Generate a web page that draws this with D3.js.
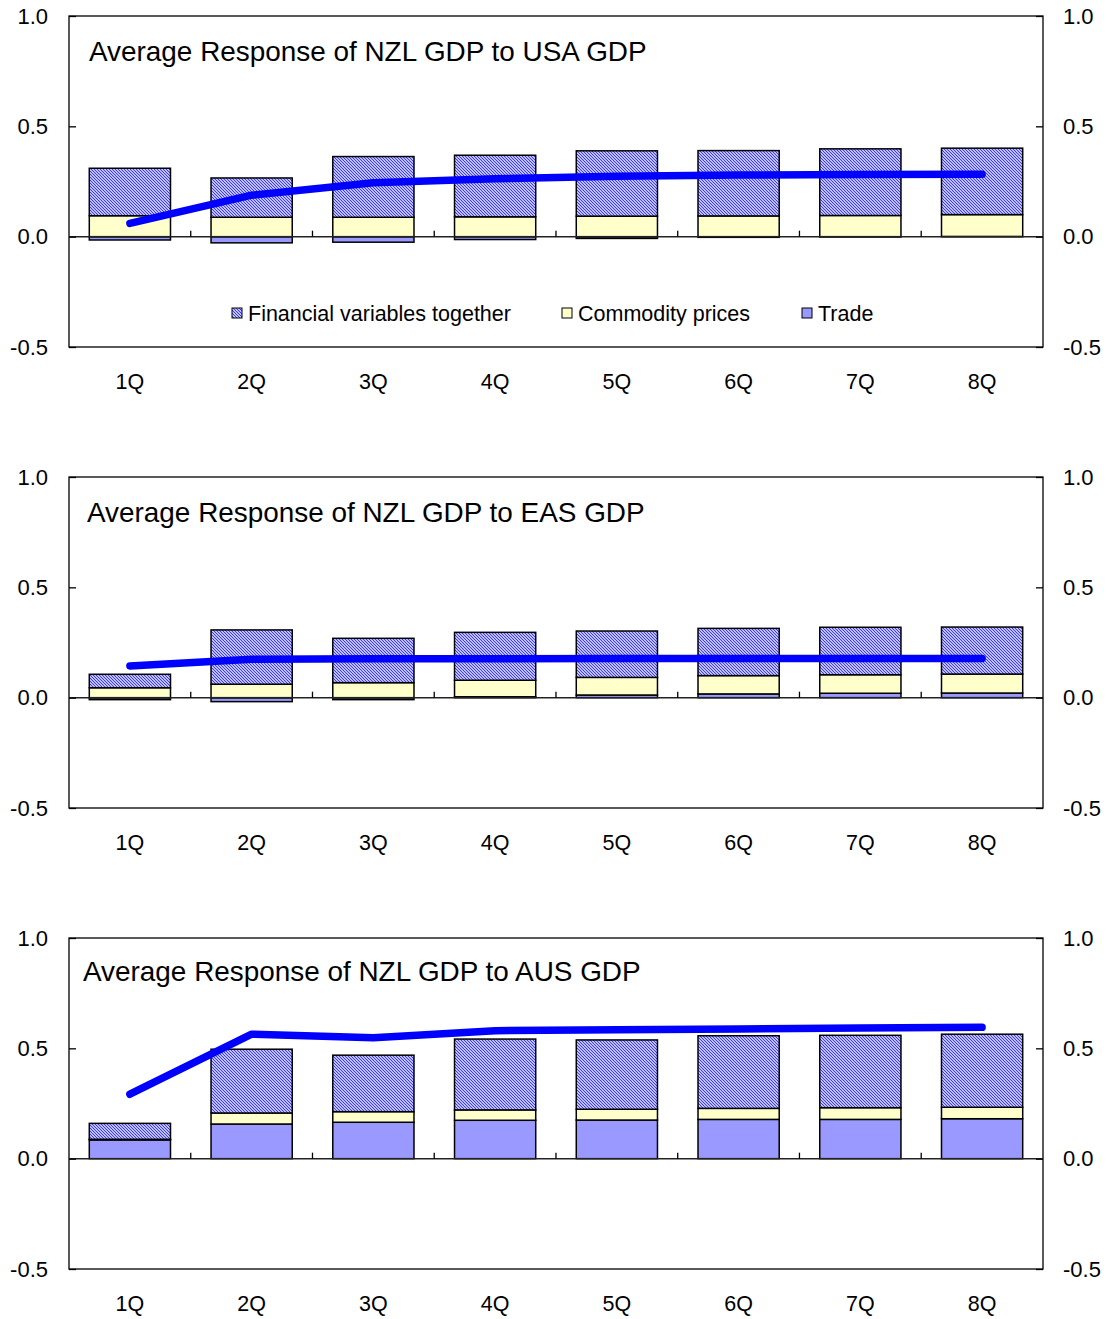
<!DOCTYPE html>
<html>
<head>
<meta charset="utf-8">
<script src="https://cdn.jsdelivr.net/npm/d3@7"></script>
<style>
  html, body { margin: 0; padding: 0; background: #ffffff; }
  svg { display: block; font-family: "Liberation Sans", Arial, sans-serif; }
</style>
</head>
<body>
<svg id="chart" width="1111" height="1319"></svg>
<script>
// ---------------- DATA ----------------
const categories = ["1Q", "2Q", "3Q", "4Q", "5Q", "6Q", "7Q", "8Q"];
const seriesNames = ["Financial variables together", "Commodity prices", "Trade"];
const yTicks = [-0.5, 0.0, 0.5, 1.0];
const yTickLabels = ["-0.5", "0.0", "0.5", "1.0"];

const titles = [
  "Average Response of NZL GDP to USA GDP",
  "Average Response of NZL GDP to EAS GDP",
  "Average Response of NZL GDP to AUS GDP"
];

// Panel 1: USA
const usaFinancial = [0.215, 0.178, 0.275, 0.279, 0.296, 0.296, 0.302, 0.301];
const usaCommodity = [0.095, 0.088, 0.088, 0.090, 0.093, 0.094, 0.096, 0.099];
const usaTrade     = [-0.015, -0.028, -0.025, -0.013, -0.008, -0.003, -0.001, 0.001];
const usaTotal     = [0.060, 0.188, 0.244, 0.262, 0.274, 0.279, 0.282, 0.283];

// Panel 2: EAS
const easFinancial = [0.061, 0.246, 0.201, 0.217, 0.210, 0.214, 0.215, 0.213];
const easCommodity = [0.045, 0.061, 0.068, 0.075, 0.080, 0.083, 0.084, 0.086];
const easTrade     = [-0.009, -0.018, -0.009, 0.004, 0.012, 0.017, 0.020, 0.021];
const easTotal     = [0.144, 0.174, 0.176, 0.176, 0.177, 0.178, 0.178, 0.178];

// Panel 3: AUS
const ausFinancial = [0.072, 0.289, 0.256, 0.321, 0.314, 0.329, 0.328, 0.331];
const ausCommodity = [0.003, 0.050, 0.048, 0.047, 0.049, 0.050, 0.053, 0.052];
const ausTrade     = [0.085, 0.157, 0.165, 0.174, 0.175, 0.178, 0.178, 0.181];
const ausTotal     = [0.292, 0.564, 0.548, 0.580, 0.584, 0.588, 0.592, 0.595];

const panelsData = [
  { title: titles[0], fin: usaFinancial, com: usaCommodity, trade: usaTrade, total: usaTotal, legend: true },
  { title: titles[1], fin: easFinancial, com: easCommodity, trade: easTrade, total: easTotal, legend: false },
  { title: titles[2], fin: ausFinancial, com: ausCommodity, trade: ausTrade, total: ausTotal, legend: false }
];

// ---------------- LAYOUT ----------------
const plotLeft = 69, plotRight = 1043;
const panelTops = [16, 477, 938];
const panelHeight = 331;
const titleOffsets = [{ dx: 20, dy: 45 }, { dx: 18, dy: 45 }, { dx: 14, dy: 43 }];

const colors = { fin: "url(#hatch)", com: "#FFFFCC", trade: "#9999FF", line: "#0000FF" };

const svg = d3.select("#chart");

// hatched pattern
const defs = svg.append("defs");
const pat = defs.append("pattern")
  .attr("id", "hatch")
  .attr("patternUnits", "userSpaceOnUse")
  .attr("width", 3).attr("height", 3);
pat.append("rect").attr("width", 3).attr("height", 3).attr("fill", "#ffffff");
pat.append("path")
  .attr("d", "M0,0 L3,3 M-1,2 L1,4 M2,-1 L4,1")
  .attr("stroke", "#3333ff").attr("stroke-width", 1.2);

const x = d3.scaleBand()
  .domain(categories)
  .range([plotLeft, plotRight])
  .paddingInner(0.333)
  .paddingOuter(0.1667);

const keys = ["trade", "com", "fin"];
const tickLabel = v => yTickLabels[yTicks.indexOf(v)];

panelsData.forEach((p, pi) => {
  const top = panelTops[pi];
  const y = d3.scaleLinear().domain([-0.5, 1.0]).range([top + panelHeight, top]);
  const g = svg.append("g");

  const rows = categories.map((c, i) => ({ cat: c, fin: p.fin[i], com: p.com[i], trade: p.trade[i] }));
  const stack = d3.stack().keys(keys).offset(d3.stackOffsetDiverging);
  const stacked = stack(rows);

  // plot frame
  g.append("rect")
    .attr("x", plotLeft).attr("y", y(1.0))
    .attr("width", plotRight - plotLeft).attr("height", y(-0.5) - y(1.0))
    .attr("fill", "none").attr("stroke", "#000").attr("stroke-width", 1.3);

  // bars
  stacked.forEach(layer => {
    g.append("g").selectAll("rect")
      .data(layer)
      .join("rect")
      .attr("x", d => x(d.data.cat))
      .attr("width", x.bandwidth())
      .attr("y", d => y(Math.max(d[0], d[1])))
      .attr("height", d => Math.abs(y(d[0]) - y(d[1])))
      .attr("fill", colors[layer.key])
      .attr("stroke", "#000")
      .attr("stroke-width", 1.5);
  });

  // zero axis line
  g.append("line")
    .attr("x1", plotLeft).attr("x2", plotRight)
    .attr("y1", y(0)).attr("y2", y(0))
    .attr("stroke", "#222").attr("stroke-width", 1.5);

  // category boundary ticks on zero line
  d3.range(1, categories.length).forEach(k => {
    const bx = x.range()[0] + k * x.step();
    g.append("line")
      .attr("x1", bx).attr("x2", bx)
      .attr("y1", y(0)).attr("y2", y(0) - 6)
      .attr("stroke", "#000").attr("stroke-width", 1.3);
  });

  // left axis
  const left = g.append("g")
    .attr("transform", `translate(${plotLeft},0)`)
    .call(d3.axisLeft(y).tickValues(yTicks).tickFormat(tickLabel)
      .tickSizeInner(-7).tickSizeOuter(0).tickPadding(21));
  left.select(".domain").remove();
  left.selectAll(".tick line").attr("stroke", "#000").attr("stroke-width", 1.3);
  left.selectAll(".tick text").attr("font-size", 22).attr("fill", "#000")
    .attr("font-family", "Liberation Sans, Arial, sans-serif");

  // right axis
  const right = g.append("g")
    .attr("transform", `translate(${plotRight},0)`)
    .call(d3.axisRight(y).tickValues(yTicks).tickFormat(tickLabel)
      .tickSizeInner(-7).tickSizeOuter(0).tickPadding(20));
  right.select(".domain").remove();
  right.selectAll(".tick line").attr("stroke", "#000").attr("stroke-width", 1.3);
  right.selectAll(".tick text").attr("font-size", 22).attr("fill", "#000")
    .attr("font-family", "Liberation Sans, Arial, sans-serif");

  // category labels
  g.append("g").selectAll("text")
    .data(categories)
    .join("text")
    .attr("x", d => x(d) + x.bandwidth() / 2)
    .attr("y", y(-0.5) + 42)
    .attr("text-anchor", "middle")
    .attr("font-size", 21.5)
    .attr("fill", "#000")
    .text(d => d);

  // total response line
  const line = d3.line()
    .x((d, i) => x(categories[i]) + x.bandwidth() / 2)
    .y(d => y(d));
  g.append("path")
    .datum(p.total)
    .attr("d", line)
    .attr("fill", "none")
    .attr("stroke", colors.line)
    .attr("stroke-width", 7.5)
    .attr("stroke-linecap", "round")
    .attr("stroke-linejoin", "round");

  // title
  g.append("text")
    .attr("x", plotLeft + titleOffsets[pi].dx)
    .attr("y", top + titleOffsets[pi].dy)
    .attr("font-size", 27.9)
    .attr("fill", "#000")
    .text(p.title);

  // legend
  if (p.legend) {
    const legendX = [232, 562, 802];
    const legendKeys = ["fin", "com", "trade"];
    const ly = 313;
    legendKeys.forEach((k, i) => {
      const lg = g.append("g");
      lg.append("rect")
        .attr("x", legendX[i]).attr("y", ly - 5)
        .attr("width", 10).attr("height", 10)
        .attr("fill", colors[k]).attr("stroke", "#000").attr("stroke-width", 1);
      lg.append("text")
        .attr("x", legendX[i] + 16).attr("y", ly + 7.5)
        .attr("font-size", 21.5).attr("fill", "#000")
        .text(seriesNames[i]);
    });
  }
});
</script>
</body>
</html>
